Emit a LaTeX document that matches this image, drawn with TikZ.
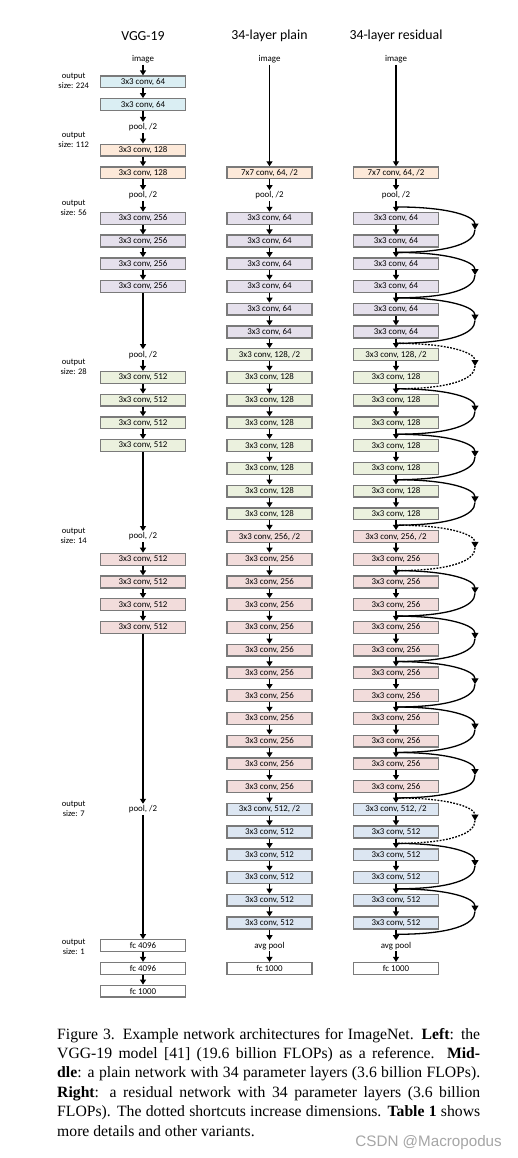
\documentclass[tikz,border=0pt]{standalone}
\usepackage{fontspec}
\setmainfont{Liberation Serif}
\newfontfamily\diagfont{Carlito}
\newfontfamily\wmfont{Liberation Sans}
\usetikzlibrary{arrows.meta}
\definecolor{cA}{HTML}{DAEEF3}
\definecolor{cB}{HTML}{FDE9D9}
\definecolor{cC}{HTML}{E5E0EC}
\definecolor{cD}{HTML}{EBF1DE}
\definecolor{cE}{HTML}{F2DCDB}
\definecolor{cF}{HTML}{DCE6F2}
\definecolor{bord}{HTML}{7A7A7A}
\definecolor{wmgray}{HTML}{A6A6A6}
\begin{document}
\begin{tikzpicture}[x=1pt,y=-1pt,
  declare function={ry(\k)=59.2+22.73*\k;},
  box/.style={draw=bord,line width=1.3pt,minimum width=85pt,minimum height=11.8pt,inner sep=0pt,font=\diagfont\fontsize{8.9}{10}\selectfont},
  lbl/.style={inner sep=1.5pt,font=\diagfont\fontsize{8.9}{10}\selectfont},
  olbl/.style={inner sep=0pt,align=center,font=\diagfont\fontsize{8.5}{10}\selectfont},
  ttl/.style={inner sep=0pt,font=\diagfont\fontsize{13.8}{16}\selectfont},
  flow/.style={line width=1.5pt,-{Triangle[length=5pt,width=6pt]}},
  sc/.style={line width=1.3pt},
  scdot/.style={line width=1.3pt,dash pattern=on 1.8pt off 1.4pt},
  headtip/.style={-{Triangle[length=6pt,width=6.8pt]}},
  capline/.style={anchor=base west,inner sep=0pt,font=\fontsize{15.7}{19.4}\selectfont},
]
\useasboundingbox (0,0) rectangle (518,1158);
\fill[white] (0,0) rectangle (518,1158);

% titles
\node[ttl] (tv) at (143,36) {VGG-19};
\node[ttl] (tp) at (269.5,36) {34-layer plain};
\node[ttl] (tr) at (396,36) {34-layer residual};

% output size labels
\node[olbl] (o1) at (73.7,81.3) {output\\size: 224};
\node[olbl] (o2) at (73.7,139.8) {output\\size: 112};
\node[olbl] (o3) at (73.7,207.5) {output\\size: 56};
\node[olbl] (o4) at (73.7,367) {output\\size: 28};
\node[olbl] (o5) at (73.7,536) {output\\size: 14};
\node[olbl] (o6) at (73.7,809.3) {output\\size: 7};
\node[olbl] (o7) at (73.7,946.5) {output\\size: 1};

% VGG-19
\node[lbl] (v0) at (143,{ry(0)}) {image};
\node[box,fill=cA] (v1) at (143,{ry(1)}) {3x3 conv, 64};
\node[box,fill=cA] (v2) at (143,{ry(2)}) {3x3 conv, 64};
\node[lbl] (v3) at (143,{ry(3)}) {pool, /2};
\node[box,fill=cB] (v4) at (143,{ry(4)}) {3x3 conv, 128};
\node[box,fill=cB] (v5) at (143,{ry(5)}) {3x3 conv, 128};
\node[lbl] (v6) at (143,{ry(6)}) {pool, /2};
\foreach \k in {7,...,10} \node[box,fill=cC] (v\k) at (143,{ry(\k)}) {3x3 conv, 256};
\node[lbl] (v13) at (143,{ry(13)}) {pool, /2};
\foreach \k in {14,...,17} \node[box,fill=cD] (v\k) at (143,{ry(\k)}) {3x3 conv, 512};
\node[lbl] (v21) at (143,{ry(21)}) {pool, /2};
\foreach \k in {22,...,25} \node[box,fill=cE] (v\k) at (143,{ry(\k)}) {3x3 conv, 512};
\node[lbl] (v33) at (143,{ry(33)}) {pool, /2};
\node[box,fill=white] (v39) at (143,{ry(39)}) {fc 4096};
\node[box,fill=white] (v40) at (143,{ry(40)}) {fc 4096};
\node[box,fill=white] (v41) at (143,{ry(41)}) {fc 1000};
\foreach \a/\b in {v0/v1,v1/v2,v2/v3,v3/v4,v4/v5,v5/v6,v6/v7,v7/v8,v8/v9,v9/v10,v10/v13,v13/v14,v14/v15,v15/v16,v16/v17,v17/v21,v21/v22,v22/v23,v23/v24,v24/v25,v25/v33,v33/v39,v39/v40,v40/v41}
  \draw[flow] (\a) -- (\b);

% residual shortcuts
\foreach \k/\st in {7/sc,9/sc,11/sc,13/scdot,15/sc,17/sc,19/sc,21/scdot,23/sc,25/sc,27/sc,29/sc,31/sc,33/scdot,35/sc,37/sc}{
  \coordinate (js\k) at (396,{ry(\k-0.5)});
  \coordinate (jm\k) at (475,{ry(\k+0.5)});
  \coordinate (je\k) at (396,{ry(\k+1.5)});
  \draw[\st,headtip] (js\k) .. controls +(55,0) and +(0,-13) .. (jm\k);
  \draw[\st] (jm\k) .. controls +(0,13) and +(55,0) .. (je\k);
}

% plain and residual columns
\foreach \c/\x in {p/269.5,r/396}{
  \node[lbl] (\c0) at (\x,{ry(0)}) {image};
  \node[box,fill=cB] (\c5) at (\x,{ry(5)}) {7x7 conv, 64, /2};
  \node[lbl] (\c6) at (\x,{ry(6)}) {pool, /2};
  \foreach \k in {7,...,12} \node[box,fill=cC] (\c\k) at (\x,{ry(\k)}) {3x3 conv, 64};
  \node[box,fill=cD] (\c13) at (\x,{ry(13)}) {3x3 conv, 128, /2};
  \foreach \k in {14,...,20} \node[box,fill=cD] (\c\k) at (\x,{ry(\k)}) {3x3 conv, 128};
  \node[box,fill=cE] (\c21) at (\x,{ry(21)}) {3x3 conv, 256, /2};
  \foreach \k in {22,...,32} \node[box,fill=cE] (\c\k) at (\x,{ry(\k)}) {3x3 conv, 256};
  \node[box,fill=cF] (\c33) at (\x,{ry(33)}) {3x3 conv, 512, /2};
  \foreach \k in {34,...,38} \node[box,fill=cF] (\c\k) at (\x,{ry(\k)}) {3x3 conv, 512};
  \node[lbl] (\c39) at (\x,{ry(39)}) {avg pool};
  \node[box,fill=white] (\c40) at (\x,{ry(40)}) {fc 1000};
  \draw[flow] (\c0) -- (\c5);
  \foreach \k in {5,...,39}{\pgfmathtruncatemacro\n{\k+1}\draw[flow] (\c\k) -- (\c\n);}
}

% caption
\node[capline] (c1) at (57,1039) {\makebox[423pt][s]{Figure 3. Example network architectures for ImageNet. \textbf{Left}: the}};
\node[capline] (c2) at (57,1058.4) {\makebox[423pt][s]{VGG-19 model [41] (19.6 billion FLOPs) as a reference. \textbf{Mid-}}};
\node[capline] (c3) at (57,1077.8) {\makebox[423pt][s]{\textbf{dle}: a plain network with 34 parameter layers (3.6 billion FLOPs).}};
\node[capline] (c4) at (57,1097.2) {\makebox[423pt][s]{\textbf{Right}: a residual network with 34 parameter layers (3.6 billion}};
\node[capline] (c5) at (57,1116.6) {\makebox[423pt][s]{FLOPs). The dotted shortcuts increase dimensions. \textbf{Table 1} shows}};
\node[capline] (c6) at (57,1136) {more details and other variants.};

% watermark
\node[anchor=base east,inner sep=0pt,text=wmgray,font=\wmfont\fontsize{15.2}{18}\selectfont] (wm) at (502,1146.5) {CSDN @Macropodus};
\end{tikzpicture}
\end{document}
